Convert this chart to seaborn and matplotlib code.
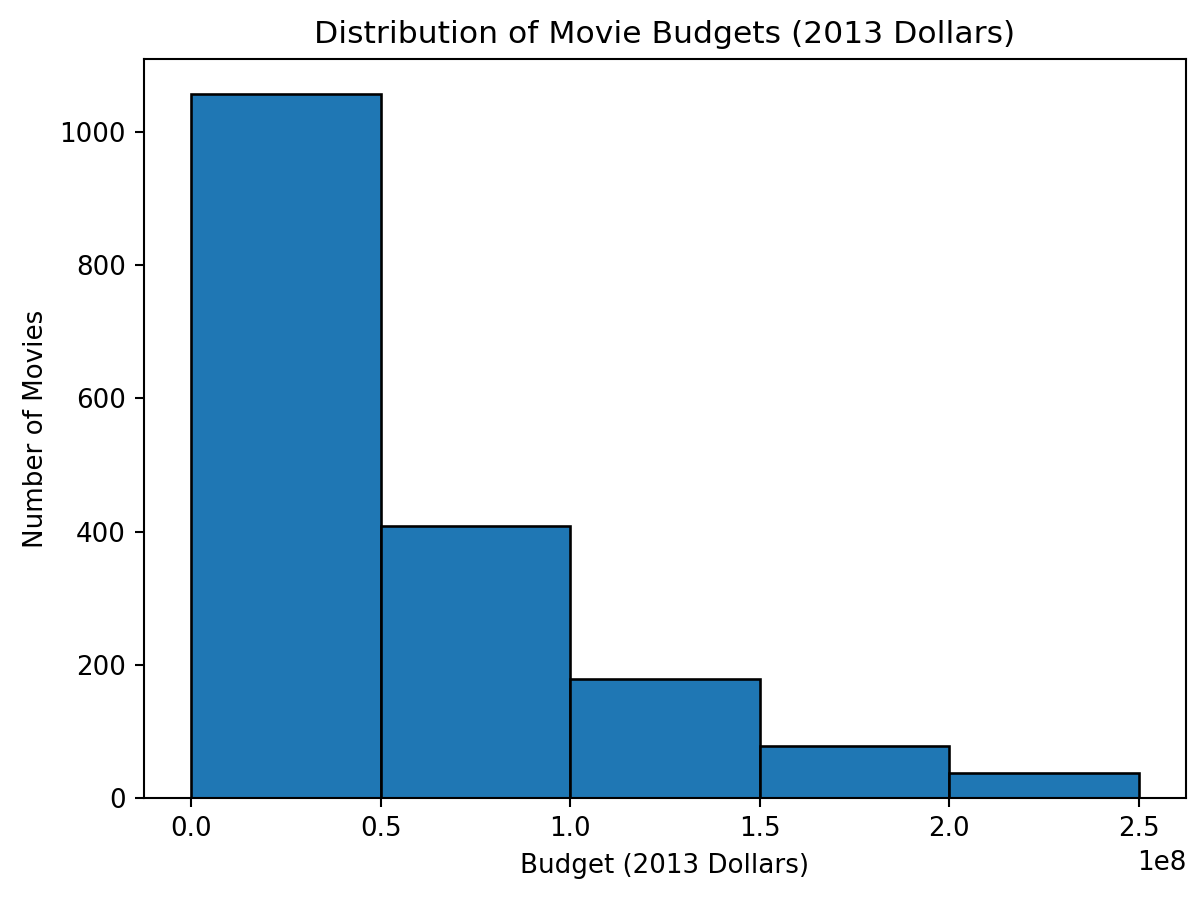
import numpy as np
import matplotlib
matplotlib.use("Agg")
import matplotlib.pyplot as plt
import seaborn as sns

# histogram bins (2013 dollars) and counts
bin_edges = [0.0, 0.5e8, 1.0e8, 1.5e8, 2.0e8, 2.5e8]
counts = [1057, 408, 179, 78, 37]

bin_mids = [(bin_edges[i] + bin_edges[i + 1]) / 2 for i in range(len(counts))]

W, H, DPI = 1204, 901, 188
fig, ax = plt.subplots(figsize=(W / DPI, H / DPI), dpi=DPI)
sns.histplot(
    x=bin_mids, weights=counts, bins=bin_edges,
    color="#1f77b4", edgecolor="black", alpha=1.0, linewidth=1.0,
    ax=ax,
)
ax.set_title("Distribution of Movie Budgets (2013 Dollars)")
ax.set_xlabel("Budget (2013 Dollars)")
ax.set_ylabel("Number of Movies")

fig.subplots_adjust(left=144 / W, right=1186 / W, top=1 - 59 / H, bottom=1 - 798 / H)
fig.savefig("out.png", dpi=DPI)
